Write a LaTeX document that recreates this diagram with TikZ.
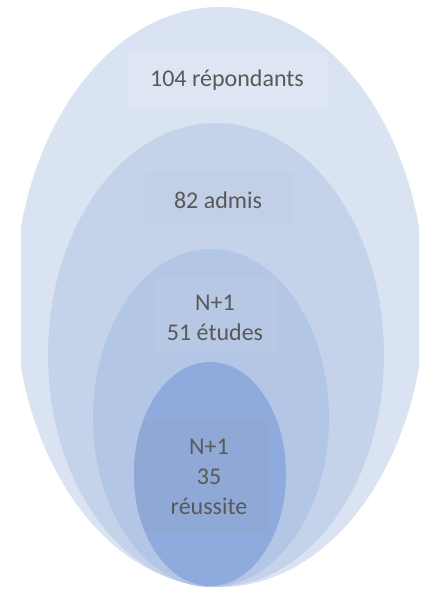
\documentclass[tikz,border=0pt]{standalone}
\usepackage{fontspec}
\setmainfont{Carlito}
\definecolor{ringA}{HTML}{DAE3F2}
\definecolor{ringB}{HTML}{C5D3EA}
\definecolor{ringC}{HTML}{B4C6E5}
\definecolor{ringD}{HTML}{8FAADC}
\definecolor{boxA}{HTML}{DEE6F3}
\definecolor{boxB}{HTML}{C2CFE6}
\definecolor{boxC}{HTML}{B6C8E3}
\definecolor{boxD}{HTML}{90A8D6}
\definecolor{txt}{HTML}{595959}
\begin{document}
\begin{tikzpicture}[x=1pt,y=-1pt,
  lbl/.style={text=txt,font=\fontsize{24}{30}\selectfont,align=center,inner sep=0pt}]
\useasboundingbox (0,0) rectangle (425,589);
\fill[white] (0,0) rectangle (425,589);
\begin{scope}
  \clip (21,0) rectangle (419,589);
  \fill[ringA] (220,297) ellipse [x radius=205, y radius=290];
\end{scope}
\fill[boxA] (127,53) rectangle (328,107);
\fill[ringB] (216,355) ellipse [x radius=168, y radius=232];
\fill[boxB] (145,172) rectangle (293,224);
\fill[ringC] (211,418) ellipse [x radius=118, y radius=169];
\begin{scope}
  \clip (211,418) ellipse [x radius=118, y radius=169];
  \fill[boxC] (155,277) rectangle (277,352);
\end{scope}
\fill[ringD] (210,474) ellipse [x radius=76, y radius=112];
\begin{scope}
  \clip (210,474) ellipse [x radius=76, y radius=112];
  \fill[boxD] (134,420) rectangle (269,533);
\end{scope}
\node[lbl] (t1) at (227,80) {104 répondants};
\node[lbl] (t2) at (218,200) {82 admis};
\node[lbl] (t3) at (215,318) {N+1\\51 études};
\node[lbl] (t4) at (209,477) {N+1\\35\\réussite};
\end{tikzpicture}
\end{document}
